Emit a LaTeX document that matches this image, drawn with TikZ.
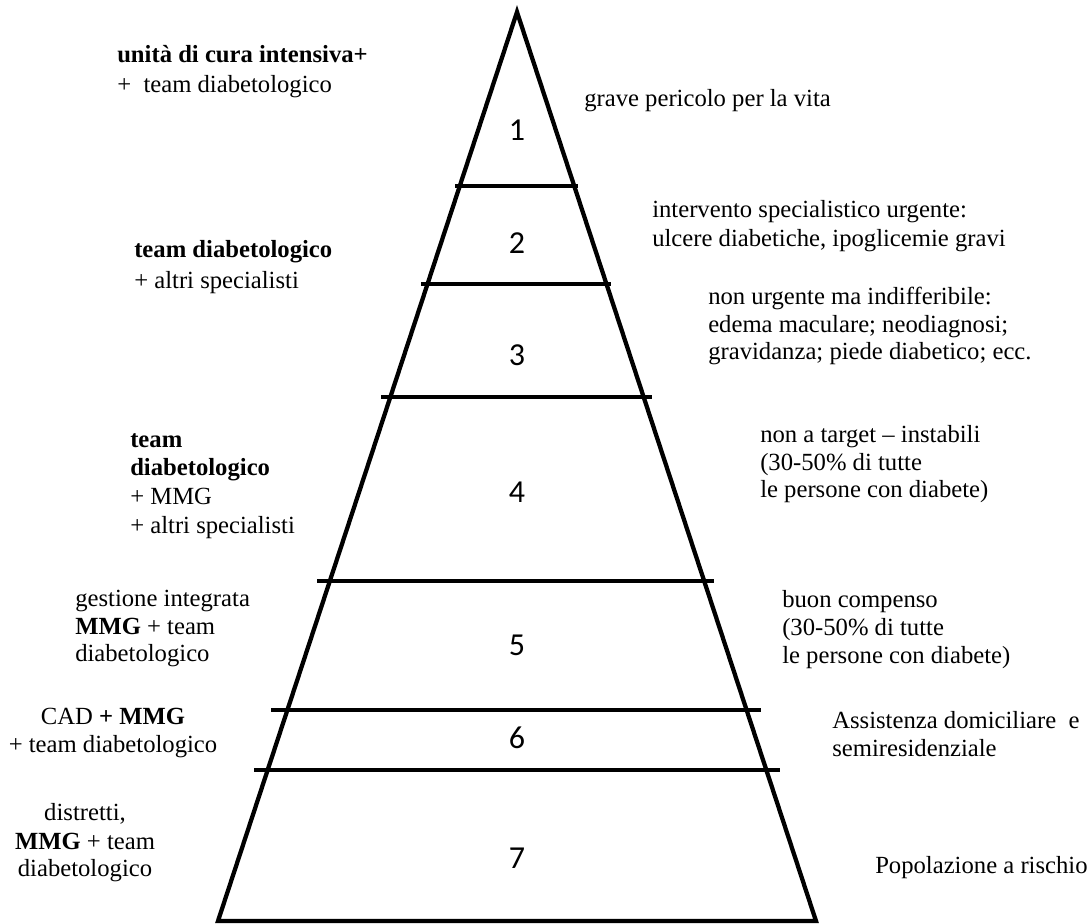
\documentclass[tikz,border=0pt]{standalone}
\usepackage{fontspec}
\setmainfont{Liberation Serif}
\newfontfamily\numfont{Carlito}
\begin{document}
\begin{tikzpicture}[x=0.75pt,y=-0.75pt,
  txt/.style={font=\fontsize{18.5}{22}\selectfont, inner sep=0pt},
  lft/.style={txt, anchor=base west},
  ctr/.style={txt, anchor=base},
  num/.style={font=\numfont\fontsize{24}{28}\selectfont, inner sep=0pt, anchor=center},
  edge/.style={line width=3.2pt, line join=miter},
  sep/.style={line width=3pt}]
\useasboundingbox (0,0) rectangle (1090,924);
% pyramid
\draw[edge] (517,12) -- (218,921) -- (816,921) -- cycle;
% separators
\draw[sep] (455,186) -- (578,186);
\draw[sep] (421,284) -- (611,284);
\draw[sep] (381,397) -- (652,397);
\draw[sep] (317,581) -- (714,581);
\draw[sep] (271,710) -- (761,710);
\draw[sep] (254,770) -- (780,770);
% numbers
\node[num] (n1) at (517,130) {1};
\node[num] (n2) at (517,243) {2};
\node[num] (n3) at (517,355) {3};
\node[num] (n4) at (517,492) {4};
\node[num] (n5) at (517,645) {5};
\node[num] (n6) at (517,738) {6};
\node[num] (n7) at (517,858) {7};
% left texts
\node[lft] (a1) at (117,63) {\textbf{unità di cura intensiva+}};
\node[lft] (a2) at (117,93) {+\ \ team diabetologico};
\node[lft] (b1) at (134,257) {\textbf{team diabetologico}};
\node[lft] (b2) at (134,288) {+ altri specialisti};
\node[lft] (c1) at (130,447) {\textbf{team}};
\node[lft] (c2) at (130,475) {\textbf{diabetologico}};
\node[lft] (c3) at (130,504) {+ MMG};
\node[lft] (c4) at (130,533) {+ altri specialisti};
\node[lft] (d1) at (75,606) {gestione integrata};
\node[lft] (d2) at (75,634) {\textbf{MMG} + team};
\node[lft] (d3) at (75,661) {diabetologico};
\node[ctr] (e1) at (113,724) {CAD \textbf{+ MMG}};
\node[ctr] (e2) at (113,752) {+ team diabetologico};
\node[ctr] (f1) at (85,820) {distretti,};
\node[ctr] (f2) at (85,849) {\textbf{MMG} + team};
\node[ctr] (f3) at (85,876) {diabetologico};
% right texts
\node[lft] (g1) at (584,107) {grave pericolo per la vita};
\node[lft] (h1) at (652,217) {intervento specialistico urgente:};
\node[lft] (h2) at (652,246) {ulcere diabetiche, ipoglicemie gravi};
\node[lft] (i1) at (708,304) {non urgente ma indifferibile:};
\node[lft] (i2) at (708,332) {edema maculare; neodiagnosi;};
\node[lft] (i3) at (708,359) {gravidanza; piede diabetico; ecc.};
\node[lft] (j1) at (760,442) {non a target – instabili};
\node[lft] (j2) at (760,470) {(30-50\% di tutte};
\node[lft] (j3) at (760,497) {le persone con diabete)};
\node[lft] (k1) at (782,607) {buon compenso};
\node[lft] (k2) at (782,635) {(30-50\% di tutte};
\node[lft] (k3) at (782,663) {le persone con diabete)};
\node[lft] (l1) at (832,728) {Assistenza domiciliare\ \ e};
\node[lft] (l2) at (832,756) {semiresidenziale};
\node[lft] (m1) at (875,873) {Popolazione a rischio};
\end{tikzpicture}
\end{document}
